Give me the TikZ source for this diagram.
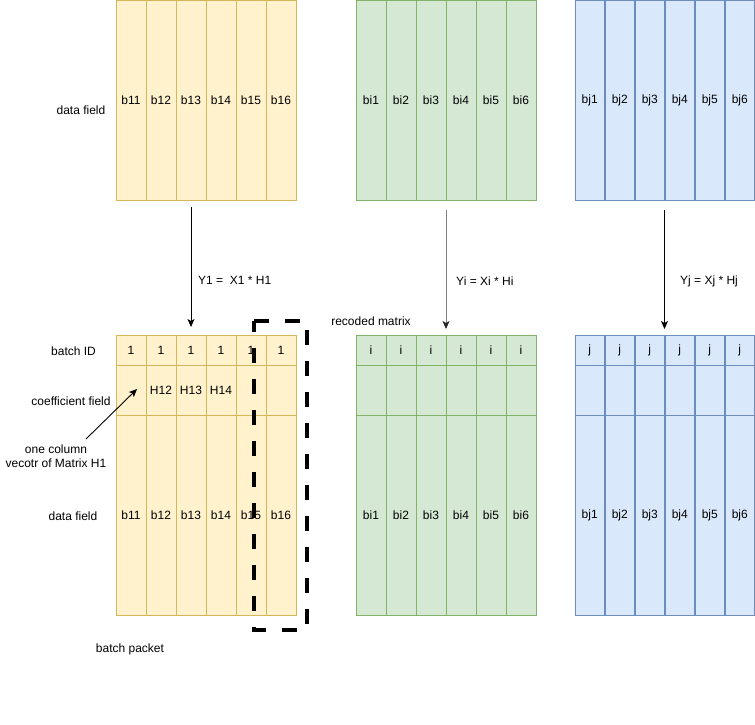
\documentclass[tikz,border=0pt]{standalone}
\usepackage{fontspec}
\setmainfont{Liberation Sans}
\usetikzlibrary{arrows.meta}
\definecolor{yfill}{HTML}{FFF2CC}\definecolor{ydraw}{HTML}{D6B656}
\definecolor{gfill}{HTML}{D5E8D4}\definecolor{gdraw}{HTML}{82B366}
\definecolor{bfill}{HTML}{DAE8FC}\definecolor{bdraw}{HTML}{6C8EBF}
\begin{document}
\begin{tikzpicture}[x=1pt,y=-1pt,font=\fontsize{12}{14}\selectfont,
  cell/.style={draw,anchor=north west,minimum width=30pt,inner sep=0pt,outer sep=0pt,line width=1pt},
  ycell/.style={cell,fill=yfill,draw=ydraw},
  gcell/.style={cell,fill=gfill,draw=gdraw},
  bcell/.style={cell,fill=bfill,draw=bdraw},
  lbl/.style={inner sep=0pt,align=center},
  arr/.style={-{Stealth[length=8pt,width=7pt,inset=2pt]},line width=1pt},
  hlbox/.style={line width=4.5pt,dash pattern=on 15pt off 16pt}]
\useasboundingbox (0,0) rectangle (755,724);
% top blocks
\foreach \i in {1,...,6} {
  \node[ycell,minimum height=199.5pt] (ty\i) at ({116+30*(\i-1)},0.5) {b1\i};
  \node[gcell,minimum height=199.5pt] (tg\i) at ({356+30*(\i-1)},0.5) {bi\i};
  \node[bcell,minimum height=199.5pt,minimum width=29.5pt] (tb\i) at ({575+30*(\i-1)},0.5) {bj\i};
}
% bottom blocks
\foreach \i/\t in {1/,2/H12,3/H13,4/H14,5/,6/} {
  \node[ycell,minimum height=30pt] (ay\i) at ({116+30*(\i-1)},335) {1};
  \node[ycell,minimum height=50pt] (cy\i) at ({116+30*(\i-1)},365) {\t};
  \node[ycell,minimum height=200pt] (dy\i) at ({116+30*(\i-1)},415) {b1\i};
  \node[gcell,minimum height=30pt] (ag\i) at ({356+30*(\i-1)},335) {i};
  \node[gcell,minimum height=50pt] (cg\i) at ({356+30*(\i-1)},365) {};
  \node[gcell,minimum height=200pt] (dg\i) at ({356+30*(\i-1)},415) {bi\i};
  \node[bcell,minimum height=30pt,minimum width=29.5pt] (ab\i) at ({575+30*(\i-1)},335) {j};
  \node[bcell,minimum height=50pt,minimum width=29.5pt] (cb\i) at ({575+30*(\i-1)},365) {};
  \node[bcell,minimum height=200pt,minimum width=29.5pt] (db\i) at ({575+30*(\i-1)},415) {bj\i};
}
% arrows
\draw[arr,shorten <=7pt,shorten >=8pt] (ty3.south) -- (ay3.north);
\draw[-{Stealth[length=8pt,width=7pt,inset=2pt,color=black!85]},line width=1pt,draw=black!50,shorten <=10pt,shorten >=6pt] (tg3.south east) -- (ag3.north east);
\draw[arr,shorten <=10pt,shorten >=6pt] (tb3.south east) -- (ab3.north east);
% labels
\node[lbl] (ldt) at (81,110) {data field};
\node[lbl] (lid) at (73.5,351) {batch ID};
\node[lbl] (lcf) at (71,401) {coefficient field};
\node[lbl] (lvec) at (56,456) {one column\\vecotr of Matrix H1};
\node[lbl] (ldb) at (73,516) {data field};
\node[lbl] (lbp) at (130,649) {batch packet};
\node[lbl] (lrm) at (371,321) {recoded matrix};
\node[lbl,anchor=west] (eq1) at (198,280) {Y1 = \ X1 * H1};
\node[lbl,anchor=west] (eqi) at (456,281) {Yi = Xi * Hi};
\node[lbl,anchor=west] (eqj) at (680,281) {Yj = Xj * Hj};
% H1 column arrow
\coordinate (hT) at (86,439);
\coordinate (hH) at (137,389);
\draw[arr,line width=0.9pt] (hT) -- (hH);
% highlight box
\node[minimum width=53pt,minimum height=309pt,inner sep=0pt,outer sep=0pt] (hl) at (280.5,475.5) {};
\draw[hlbox] (hl.north west) -- (hl.north east) -- (hl.south east) -- (hl.south west) -- cycle;
\end{tikzpicture}
\end{document}
